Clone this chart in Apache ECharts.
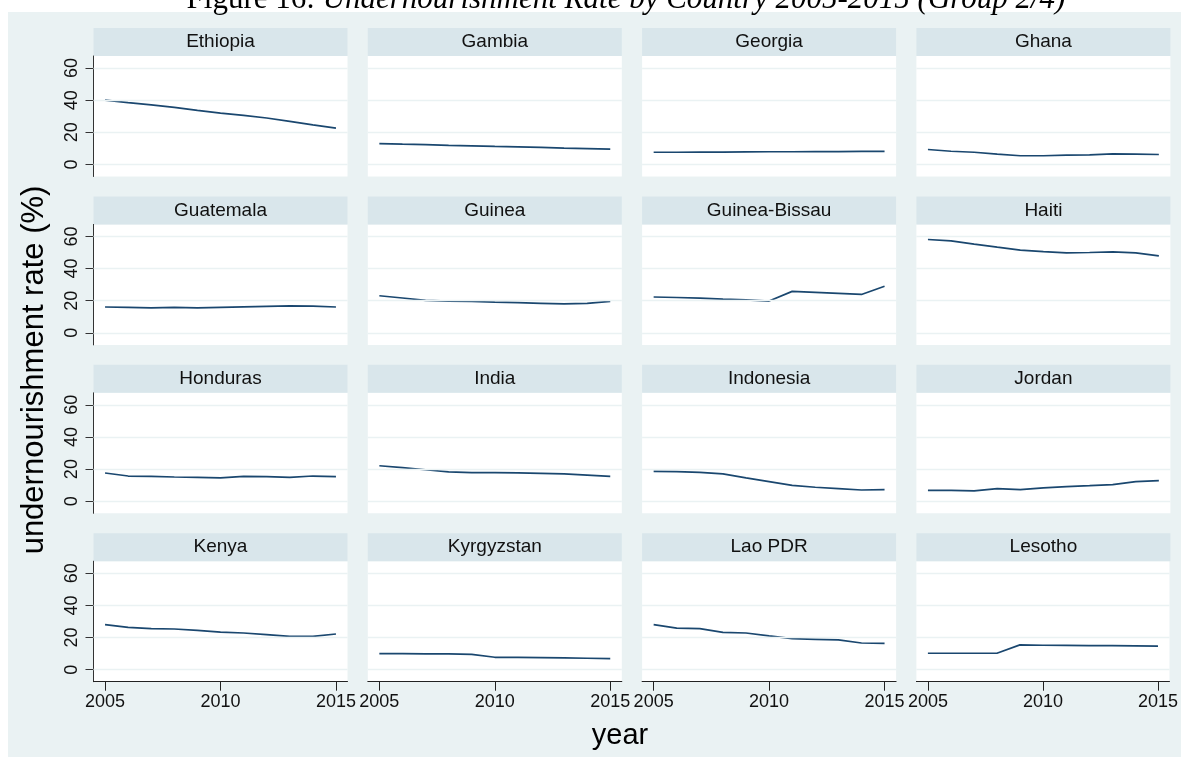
<!DOCTYPE html>
<html>
<head>
<meta charset="utf-8">
<title>Undernourishment Rate by Country 2005-2015 (Group 2/4)</title>
<script src="https://cdn.jsdelivr.net/npm/echarts@6/dist/echarts.min.js"></script>
<style>
  html, body { margin: 0; padding: 0; background: #ffffff; }
  #chart { width: 1181px; height: 757px; }
</style>
</head>
<body>
<div id="chart"></div>
<script>
// ---- data: undernourishment rate (%), 2005-2015 ----
const years = [2005, 2006, 2007, 2008, 2009, 2010, 2011, 2012, 2013, 2014, 2015];
const xTicks = [2005, 2010, 2015];
const yTicks = [0, 20, 40, 60];

const ethiopia     = [40.0, 38.5, 37.1, 35.5, 33.6, 32.0, 30.6, 28.9, 26.8, 24.6, 22.6];
const gambia       = [13.0, 12.6, 12.3, 11.9, 11.6, 11.2, 10.9, 10.6, 10.2, 9.9, 9.6];
const georgia      = [7.6, 7.6, 7.7, 7.7, 7.8, 7.9, 7.9, 8.0, 8.0, 8.1, 8.1];
const ghana        = [9.3, 8.2, 7.6, 6.4, 5.4, 5.4, 5.8, 6.0, 6.6, 6.4, 6.2];
const guatemala    = [16.1, 15.9, 15.5, 15.9, 15.5, 15.9, 16.2, 16.5, 16.8, 16.6, 16.1];
const guinea       = [23.1, 21.7, 20.2, 19.8, 19.5, 19.1, 18.8, 18.4, 18.0, 18.4, 19.6];
const guineaBissau = [22.3, 22.0, 21.6, 21.0, 20.5, 19.8, 25.8, 25.2, 24.6, 23.9, 29.0];
const haiti        = [58.1, 57.3, 55.2, 53.3, 51.5, 50.6, 49.8, 50.0, 50.4, 49.8, 47.9];
const honduras     = [17.6, 15.7, 15.5, 15.1, 14.9, 14.5, 15.5, 15.3, 14.9, 15.7, 15.3];
const india        = [22.1, 20.9, 19.6, 18.3, 17.8, 17.8, 17.6, 17.4, 17.0, 16.3, 15.5];
const indonesia    = [18.6, 18.4, 18.0, 17.0, 14.5, 12.2, 9.9, 8.7, 7.9, 7.0, 7.2];
const jordan       = [6.8, 6.8, 6.4, 7.9, 7.2, 8.3, 9.1, 9.7, 10.4, 12.2, 12.8];
const kenya        = [28.0, 26.3, 25.5, 25.3, 24.5, 23.4, 22.8, 21.8, 20.7, 20.7, 22.2];
const kyrgyzstan   = [10.0, 10.0, 9.8, 9.8, 9.5, 7.7, 7.7, 7.5, 7.3, 7.1, 6.8];
const laoPDR       = [28.0, 25.9, 25.5, 23.2, 22.8, 21.0, 19.3, 18.9, 18.5, 16.6, 16.4];
const lesotho      = [10.2, 10.2, 10.2, 10.2, 15.4, 15.2, 15.1, 15.0, 14.9, 14.8, 14.7];

const countries = ['Ethiopia', 'Gambia', 'Georgia', 'Ghana',
                   'Guatemala', 'Guinea', 'Guinea-Bissau', 'Haiti',
                   'Honduras', 'India', 'Indonesia', 'Jordan',
                   'Kenya', 'Kyrgyzstan', 'Lao PDR', 'Lesotho'];
const seriesValues = [ethiopia, gambia, georgia, ghana,
                      guatemala, guinea, guineaBissau, haiti,
                      honduras, india, indonesia, jordan,
                      kenya, kyrgyzstan, laoPDR, lesotho];

// ---- layout of the 4 x 4 panel grid ----
const NCOL = 4, NROW = 4;
const panelLeft0 = 93.5, panelStepX = 274.3, panelW = 254;
const stripTop0 = 28, panelStepY = 168.4, stripH = 28, plotH = 120.5;

const BG = '#EAF2F3', STRIP = '#D9E6EB', LINE = '#1A476F';
const SANS = '"Liberation Sans", Arial, Helvetica, sans-serif';
const SERIF = '"Liberation Serif", "Times New Roman", serif';

const grids = [], xAxes = [], yAxes = [], series = [];
const graphics = [
  { type: 'rect', z: -100, silent: true,
    shape: { x: 8, y: 12, width: 1173, height: 745 },
    style: { fill: BG } }
];

countries.forEach((name, i) => {
  const c = i % NCOL, r = Math.floor(i / NCOL);
  const left = panelLeft0 + c * panelStepX;
  const stripTop = stripTop0 + r * panelStepY;
  const plotTop = stripTop + stripH;

  // panel heading strip
  graphics.push({ type: 'rect', silent: true,
    shape: { x: left, y: stripTop, width: panelW, height: stripH },
    style: { fill: STRIP } });
  graphics.push({ type: 'text', silent: true,
    x: left + panelW / 2, y: stripTop + stripH / 2,
    style: { text: name, font: '19px ' + SANS, fill: '#111',
             align: 'center', verticalAlign: 'middle' } });

  grids.push({ left: left, top: plotTop, width: panelW, height: plotH,
               show: true, backgroundColor: '#ffffff', borderWidth: 0,
               containLabel: false });

  const showX = (r === NROW - 1), showY = (c === 0);
  xAxes.push({
    type: 'value', gridIndex: i, min: 2004.5, max: 2015.5,
    show: showX,
    axisLine: { show: true, onZero: false, lineStyle: { color: '#222', width: 1 } },
    axisTick: { show: true, length: 9, customValues: xTicks, lineStyle: { color: '#222' } },
    axisLabel: { show: true, customValues: xTicks, margin: 11,
                 fontSize: 18, fontFamily: SANS, color: '#111',
                 formatter: v => String(v) },
    splitLine: { show: false }
  });
  yAxes.push({
    type: 'value', gridIndex: i, min: -7.5, max: 67.5,
    show: showY,
    axisLine: { show: true, onZero: false, lineStyle: { color: '#333', width: 1 } },
    axisTick: { show: true, length: 8, customValues: yTicks, lineStyle: { color: '#333' } },
    axisLabel: { show: true, customValues: yTicks, rotate: 90, margin: 12,
                 fontSize: 18, fontFamily: SANS, color: '#111' },
    splitLine: { show: false }
  });

  series.push({
    type: 'line', xAxisIndex: i, yAxisIndex: i,
    data: years.map((y, k) => [y, seriesValues[i][k]]),
    showSymbol: false, symbol: 'none', smooth: false,
    lineStyle: { color: LINE, width: 1.7 },
    emphasis: { disabled: true },
    markLine: {
      silent: true, symbol: ['none', 'none'], label: { show: false },
      lineStyle: { color: BG, width: 1.3, type: 'solid' },
      emphasis: { disabled: true },
      data: yTicks.map(v => ({ yAxis: v }))
    }
  });
});

// figure title, axis titles
graphics.push({ type: 'text', silent: true, x: 626, y: 0,
  style: {
    text: '{a|Figure 16: }{b|Undernourishment Rate by Country 2005-2015 (Group 2/4)}',
    align: 'center', verticalAlign: 'middle', fill: '#000',
    rich: {
      a: { fontFamily: SERIF, fontSize: 31, fontStyle: 'normal', fill: '#000' },
      b: { fontFamily: SERIF, fontSize: 31, fontStyle: 'italic', fill: '#000' }
    }
  } });
graphics.push({ type: 'text', silent: true, x: 34, y: 370, rotation: Math.PI / 2,
  style: { text: 'undernourishment rate (%)', font: '31px ' + SANS, fill: '#000',
           align: 'center', verticalAlign: 'middle' } });
graphics.push({ type: 'text', silent: true, x: 620, y: 736,
  style: { text: 'year', font: '29px ' + SANS, fill: '#000',
           align: 'center', verticalAlign: 'middle' } });

const chart = echarts.init(document.getElementById('chart'), null, { renderer: 'canvas' });
chart.setOption({
  animation: false,
  backgroundColor: '#ffffff',
  grid: grids,
  xAxis: xAxes,
  yAxis: yAxes,
  series: series,
  graphic: { elements: graphics }
});
</script>
</body>
</html>
